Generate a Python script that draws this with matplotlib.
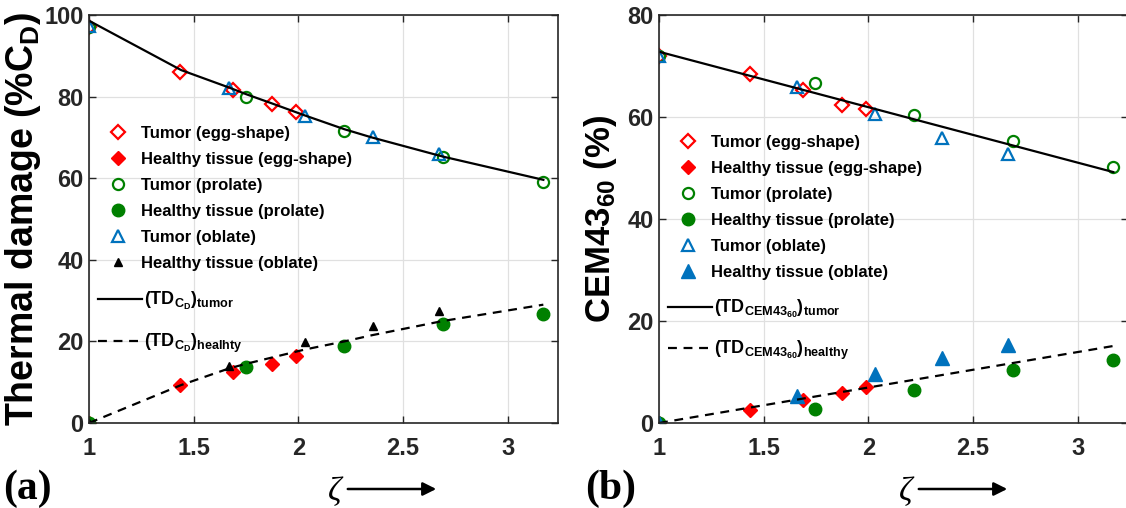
import matplotlib
matplotlib.use("Agg")
import matplotlib.pyplot as plt
from matplotlib.patches import FancyArrowPatch

plt.rcParams["font.family"] = ["Liberation Sans", "DejaVu Sans"]
plt.rcParams["font.weight"] = "bold"
plt.rcParams["mathtext.fontset"] = "custom"
plt.rcParams["mathtext.rm"] = "Liberation Sans:bold"
plt.rcParams["mathtext.it"] = "Liberation Sans:bold"
plt.rcParams["mathtext.bf"] = "Liberation Sans:bold"
plt.rcParams["mathtext.default"] = "rm"

# ---- data ----
# panel (a): thermal damage (%C_D)
egg_x = [1.0, 1.436, 1.69, 1.875, 1.99]
egg_tumor_a = [97.0, 86.1, 81.7, 78.2, 76.3]
egg_healthy_a = [0.0, 9.2, 12.6, 14.4, 16.3]

pro_x = [1.0, 1.75, 2.22, 2.69, 3.17]
pro_tumor_a = [97.0, 80.0, 71.6, 65.1, 59.1]
pro_healthy_a = [0.0, 13.7, 18.9, 24.3, 26.8]

obl_x = [1.0, 1.667, 2.03, 2.356, 2.67]
obl_tumor_a = [97.2, 82.0, 75.3, 70.0, 66.0]
obl_healthy_a = [0.0, 14.0, 19.9, 23.8, 27.4]

fit_x_a = [1.0, 1.44, 1.67, 1.75, 1.87, 2.03, 2.22, 2.35, 2.69, 3.17]
fit_tumor_a = [98.6, 86.5, 82.2, 80.6, 78.4, 75.4, 72.0, 70.0, 65.3, 59.6]
fit_healthy_a = [0.0, 9.3, 13.4, 14.5, 16.0, 18.0, 20.0, 21.5, 25.0, 29.0]

# panel (b): CEM43_60 (%)
egg_tumor_b = [72.0, 68.4, 65.3, 62.4, 61.6]
egg_healthy_b = [0.0, 2.6, 4.6, 5.8, 7.1]
pro_x_b = [1.0, 1.745, 2.22, 2.69, 3.17]
pro_tumor_b = [72.0, 66.7, 60.3, 55.3, 50.1]
pro_healthy_b = [0.0, 2.7, 6.5, 10.3, 12.4]
obl_x_b = [1.0, 1.66, 2.03, 2.35, 2.665]
obl_tumor_b = [72.0, 65.9, 60.6, 55.8, 52.8]
obl_healthy_b = [0.0, 5.3, 9.6, 12.7, 15.3]

fit_x_b = [1.0, 3.17]
fit_tumor_b = [72.8, 49.2]
fit_healthy_b = [0.0, 15.1]

marker_labels = ["Tumor (egg-shape)", "Healthy tissue (egg-shape)",
                 "Tumor (prolate)", "Healthy tissue (prolate)",
                 "Tumor (oblate)", "Healthy tissue (oblate)"]
fit_labels_a = [r"$(TD_{C_D})_{tumor}$", r"$(TD_{C_D})_{healhty}$"]
fit_labels_b = [r"$(TD_{CEM43_{60}})_{tumor}$", r"$(TD_{CEM43_{60}})_{healthy}$"]

RED = "#ff0000"
GREEN = "#008000"
BLUE = "#0072bd"

fig = plt.figure(figsize=(11.26, 5.08), dpi=100)
W, H = 1126, 508
ax_a = fig.add_axes([89 / W, (H - 423) / H, 469 / W, 408 / H])
ax_b = fig.add_axes([659 / W, (H - 423) / H, 469 / W, 408 / H])


def style(ax, ymax, step):
    ax.set_xlim(1, 3.24)
    ax.set_ylim(0, ymax)
    ax.set_xticks([1, 1.5, 2, 2.5, 3])
    ax.set_xticklabels(["1", "1.5", "2", "2.5", "3"])
    ax.set_yticks(range(0, ymax + 1, step))
    ax.grid(True, color="#e0e0e0", linewidth=0.9)
    ax.set_axisbelow(True)
    ax.tick_params(direction="in", top=True, right=True, length=5,
                   width=1.0, color="#262626", labelsize=17)
    ax.tick_params(axis="x", pad=10)
    ax.tick_params(axis="y", pad=4)
    for lbl in ax.get_xticklabels() + ax.get_yticklabels():
        lbl.set_fontweight("bold")
        lbl.set_color("#262626")
    for sp in ax.spines.values():
        sp.set_color("#262626")
        sp.set_linewidth(1.2)


def panel(ax, data, tri_style, fits):
    (ex, et, eh, px, pt, ph, ox, ot, oh) = data
    hs = []
    hs += ax.plot(ex, et, "D", ls="none", mfc="none", mec=RED, mew=1.6, ms=7)
    hs += ax.plot(ex, eh, "D", ls="none", color=RED, ms=7.5)
    hs += ax.plot(px, pt, "o", ls="none", mfc="none", mec=GREEN, mew=1.6, ms=8)
    hs += ax.plot(px, ph, "o", ls="none", color=GREEN, ms=9)
    hs += ax.plot(ox, ot, "^", ls="none", mfc="none", mec=BLUE, mew=1.6, ms=8.5)
    hs += ax.plot(ox, oh, "^", ls="none", **tri_style)
    fx, ft, fh = fits
    lines = []
    lines += ax.plot(fx, ft, "-", color="black", lw=1.6)
    lines += ax.plot(fx, fh, "--", color="black", lw=1.6, dashes=(4, 3))
    return hs, lines


def legends(ax, hs, lines, fit_labels, top_px, gap_px, fit_spacing):
    # marker entries, then the two fit lines (taller rows because of subscripts)
    y0 = (423 - top_px) / 408
    leg1 = ax.legend(hs, marker_labels, loc="upper left",
                     bbox_to_anchor=(0.02, y0), frameon=False, fontsize=12,
                     handlelength=2.4, handletextpad=0.15, labelspacing=0.66,
                     borderpad=0, borderaxespad=0)
    ax.add_artist(leg1)
    y1 = (423 - top_px - gap_px) / 408
    ax.legend(lines, fit_labels, loc="upper left", bbox_to_anchor=(0.02, y1),
              frameon=False, fontsize=13, handlelength=2.4, handletextpad=0.1,
              labelspacing=fit_spacing, borderpad=0, borderaxespad=0)


# ---- panel (a) ----
style(ax_a, 100, 20)
hs, lines = panel(ax_a,
                  (egg_x, egg_tumor_a, egg_healthy_a, pro_x, pro_tumor_a,
                   pro_healthy_a, obl_x, obl_tumor_a, obl_healthy_a),
                  dict(color="black", ms=6), (fit_x_a, fit_tumor_a, fit_healthy_a))
legends(ax_a, hs, lines, fit_labels_a, 126, 164, 1.1)
ax_a.set_ylabel(r"Thermal damage (%C$_D$)", fontsize=27, fontweight="bold",
                labelpad=1)

# ---- panel (b) ----
style(ax_b, 80, 20)
hs, lines = panel(ax_b,
                  (egg_x, egg_tumor_b, egg_healthy_b, pro_x_b, pro_tumor_b,
                   pro_healthy_b, obl_x_b, obl_tumor_b, obl_healthy_b),
                  dict(color=BLUE, ms=9.5), (fit_x_b, fit_tumor_b, fit_healthy_b))
legends(ax_b, hs, lines, fit_labels_b, 135, 163, 1.05)
ax_b.set_ylabel(r"CEM43$_{60}$ (%)", fontsize=25, fontweight="bold", labelpad=6)

# ---- panel letters and zeta arrows ----
serif = ["Liberation Serif", "DejaVu Serif"]
for px0, letter, zx in [(3, "(a)", 335), (585, "(b)", 906)]:
    fig.text(px0 / W, 1 - 489 / H, letter, family=serif, fontsize=30,
             fontweight="bold", va="center", ha="left")
    fig.text(zx / W, 1 - 492 / H, "\u03b6", family=serif, fontsize=24,
             style="italic", fontweight="normal", va="center", ha="center")
    fig.add_artist(FancyArrowPatch(
        ((zx + 10) / W, 1 - 489 / H), ((zx + 104) / W, 1 - 489 / H),
        transform=fig.transFigure, arrowstyle="-|>", mutation_scale=20,
        color="black", lw=1.8))

fig.savefig("out.png", dpi=100)
